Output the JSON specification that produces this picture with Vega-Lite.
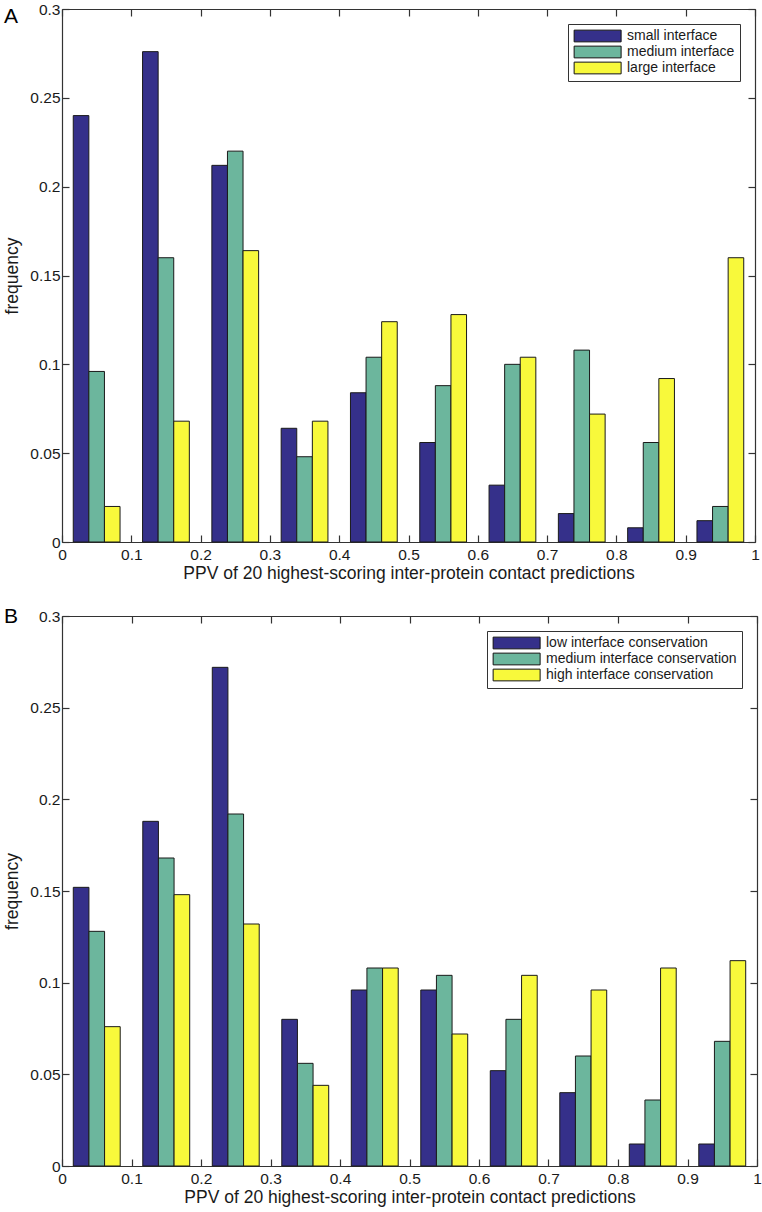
{
  "$schema": "https://vega.github.io/schema/vega-lite/v6.json",
  "background": "white",
  "padding": {"left": 3, "top": 2, "right": 0, "bottom": 4},
  "config": {
    "font": "Liberation Sans",
    "view": {"stroke": null},
    "axis": {
      "grid": false,
      "domainColor": "#333333",
      "domainWidth": 1.2,
      "tickColor": "#333333",
      "tickWidth": 1.2,
      "tickSize": -7,
      "labelColor": "#1a1a1a",
      "titleColor": "#1a1a1a",
      "labelFontSize": 15.5,
      "titleFontSize": 17.5,
      "titleFontWeight": "normal",
      "labelFont": "Liberation Sans",
      "titleFont": "Liberation Sans",
      "labelOverlap": false,
      "labelFlush": false,
      "labelBound": false
    },
    "axisX": {"labelPadding": 12, "titlePadding": 2},
    "axisY": {"labelPadding": 9, "titlePadding": 8},
    "legend": {
      "orient": "top-right",
      "offset": 15,
      "padding": 5,
      "strokeColor": "#333333",
      "fillColor": "white",
      "cornerRadius": 0,
      "symbolType": "M-1,-1H7V1H-1Z",
      "symbolSize": 138,
      "symbolStrokeColor": "#111111",
      "symbolStrokeWidth": 1,
      "symbolOpacity": 1,
      "labelFontSize": 14,
      "labelFont": "Liberation Sans",
      "labelColor": "#1a1a1a",
      "labelOffset": 40,
      "rowPadding": 0,
      "labelLimit": 400
    },
    "title": {
      "anchor": "start",
      "frame": "group",
      "fontSize": 21,
      "fontWeight": "normal",
      "font": "Liberation Sans",
      "color": "#000000",
      "baseline": "top",
      "dx": -58
    }
  },
  "datasets": {
    "A": [
      {"ppv": 0.05, "series": "small interface", "freq": 0.24},
      {"ppv": 0.05, "series": "medium interface", "freq": 0.096},
      {"ppv": 0.05, "series": "large interface", "freq": 0.02},
      {"ppv": 0.15, "series": "small interface", "freq": 0.276},
      {"ppv": 0.15, "series": "medium interface", "freq": 0.16},
      {"ppv": 0.15, "series": "large interface", "freq": 0.068},
      {"ppv": 0.25, "series": "small interface", "freq": 0.212},
      {"ppv": 0.25, "series": "medium interface", "freq": 0.22},
      {"ppv": 0.25, "series": "large interface", "freq": 0.164},
      {"ppv": 0.35, "series": "small interface", "freq": 0.064},
      {"ppv": 0.35, "series": "medium interface", "freq": 0.048},
      {"ppv": 0.35, "series": "large interface", "freq": 0.068},
      {"ppv": 0.45, "series": "small interface", "freq": 0.084},
      {"ppv": 0.45, "series": "medium interface", "freq": 0.104},
      {"ppv": 0.45, "series": "large interface", "freq": 0.124},
      {"ppv": 0.55, "series": "small interface", "freq": 0.056},
      {"ppv": 0.55, "series": "medium interface", "freq": 0.088},
      {"ppv": 0.55, "series": "large interface", "freq": 0.128},
      {"ppv": 0.65, "series": "small interface", "freq": 0.032},
      {"ppv": 0.65, "series": "medium interface", "freq": 0.1},
      {"ppv": 0.65, "series": "large interface", "freq": 0.104},
      {"ppv": 0.75, "series": "small interface", "freq": 0.016},
      {"ppv": 0.75, "series": "medium interface", "freq": 0.108},
      {"ppv": 0.75, "series": "large interface", "freq": 0.072},
      {"ppv": 0.85, "series": "small interface", "freq": 0.008},
      {"ppv": 0.85, "series": "medium interface", "freq": 0.056},
      {"ppv": 0.85, "series": "large interface", "freq": 0.092},
      {"ppv": 0.95, "series": "small interface", "freq": 0.012},
      {"ppv": 0.95, "series": "medium interface", "freq": 0.02},
      {"ppv": 0.95, "series": "large interface", "freq": 0.16}
    ],
    "B": [
      {"ppv": 0.05, "series": "low interface conservation", "freq": 0.152},
      {"ppv": 0.05, "series": "medium interface conservation", "freq": 0.128},
      {"ppv": 0.05, "series": "high interface conservation", "freq": 0.076},
      {"ppv": 0.15, "series": "low interface conservation", "freq": 0.188},
      {"ppv": 0.15, "series": "medium interface conservation", "freq": 0.168},
      {"ppv": 0.15, "series": "high interface conservation", "freq": 0.148},
      {"ppv": 0.25, "series": "low interface conservation", "freq": 0.272},
      {"ppv": 0.25, "series": "medium interface conservation", "freq": 0.192},
      {"ppv": 0.25, "series": "high interface conservation", "freq": 0.132},
      {"ppv": 0.35, "series": "low interface conservation", "freq": 0.08},
      {"ppv": 0.35, "series": "medium interface conservation", "freq": 0.056},
      {"ppv": 0.35, "series": "high interface conservation", "freq": 0.044},
      {"ppv": 0.45, "series": "low interface conservation", "freq": 0.096},
      {"ppv": 0.45, "series": "medium interface conservation", "freq": 0.108},
      {"ppv": 0.45, "series": "high interface conservation", "freq": 0.108},
      {"ppv": 0.55, "series": "low interface conservation", "freq": 0.096},
      {"ppv": 0.55, "series": "medium interface conservation", "freq": 0.104},
      {"ppv": 0.55, "series": "high interface conservation", "freq": 0.072},
      {"ppv": 0.65, "series": "low interface conservation", "freq": 0.052},
      {"ppv": 0.65, "series": "medium interface conservation", "freq": 0.08},
      {"ppv": 0.65, "series": "high interface conservation", "freq": 0.104},
      {"ppv": 0.75, "series": "low interface conservation", "freq": 0.04},
      {"ppv": 0.75, "series": "medium interface conservation", "freq": 0.06},
      {"ppv": 0.75, "series": "high interface conservation", "freq": 0.096},
      {"ppv": 0.85, "series": "low interface conservation", "freq": 0.012},
      {"ppv": 0.85, "series": "medium interface conservation", "freq": 0.036},
      {"ppv": 0.85, "series": "high interface conservation", "freq": 0.108},
      {"ppv": 0.95, "series": "low interface conservation", "freq": 0.012},
      {"ppv": 0.95, "series": "medium interface conservation", "freq": 0.068},
      {"ppv": 0.95, "series": "high interface conservation", "freq": 0.112}
    ]
  },
  "spacing": 24,
  "resolve": {"scale": {"color": "independent"}, "legend": {"color": "independent"}},
  "vconcat": [
    {
      "width": 693,
      "height": 533,
      "title": {"text": "A", "offset": -25},
      "data": {"name": "A"},
      "transform": [
        {"calculate": "indexof(['small interface','medium interface','large interface'], datum.series)", "as": "k"},
        {"calculate": "datum.ppv + (datum.k - 1.5) * 0.0225", "as": "x0"},
        {"calculate": "datum.x0 + 0.0225", "as": "x1"}
      ],
      "layer": [
        {
          "mark": {"type": "bar", "stroke": "#1a1a1a", "strokeWidth": 1, "opacity": 1},
          "encoding": {
            "x": {"field": "x0", "type": "quantitative", "scale": {"domain": [0, 1], "nice": false},
                  "axis": {"orient": "bottom", "values": [0, 0.1, 0.2, 0.3, 0.4, 0.5, 0.6, 0.7, 0.8, 0.9, 1], "format": "~g", "title": "PPV of 20 highest-scoring inter-protein contact predictions"}},
            "x2": {"field": "x1"},
            "y": {"field": "freq", "type": "quantitative", "stack": null, "scale": {"domain": [0, 0.3], "nice": false},
                  "axis": {"orient": "left", "values": [0, 0.05, 0.1, 0.15, 0.2, 0.25, 0.3], "format": "~g", "title": "frequency"}},
            "y2": {"datum": 0},
            "color": {"field": "series", "type": "nominal",
                      "scale": {"domain": ["small interface", "medium interface", "large interface"], "range": ["#35308a", "#6cb69d", "#f8f93b"]},
                      "legend": {"title": null}}
          }
        },
        {
          "mark": {"type": "bar", "opacity": 0},
          "encoding": {
            "x": {"field": "x0", "type": "quantitative", "axis": {"orient": "top", "labels": false, "title": null, "values": [0, 0.1, 0.2, 0.3, 0.4, 0.5, 0.6, 0.7, 0.8, 0.9, 1]}},
            "x2": {"field": "x1"},
            "y": {"field": "freq", "type": "quantitative", "stack": null, "axis": {"orient": "right", "labels": false, "title": null, "values": [0, 0.05, 0.1, 0.15, 0.2, 0.25, 0.3]}},
            "y2": {"datum": 0}
          }
        }
      ]
    },
    {
      "width": 695,
      "height": 550,
      "title": {"text": "B", "offset": -18},
      "data": {"name": "B"},
      "transform": [
        {"calculate": "indexof(['low interface conservation','medium interface conservation','high interface conservation'], datum.series)", "as": "k"},
        {"calculate": "datum.ppv + (datum.k - 1.5) * 0.0225", "as": "x0"},
        {"calculate": "datum.x0 + 0.0225", "as": "x1"}
      ],
      "layer": [
        {
          "mark": {"type": "bar", "stroke": "#1a1a1a", "strokeWidth": 1, "opacity": 1},
          "encoding": {
            "x": {"field": "x0", "type": "quantitative", "scale": {"domain": [0, 1], "nice": false},
                  "axis": {"orient": "bottom", "values": [0, 0.1, 0.2, 0.3, 0.4, 0.5, 0.6, 0.7, 0.8, 0.9, 1], "format": "~g", "title": "PPV of 20 highest-scoring inter-protein contact predictions"}},
            "x2": {"field": "x1"},
            "y": {"field": "freq", "type": "quantitative", "stack": null, "scale": {"domain": [0, 0.3], "nice": false},
                  "axis": {"orient": "left", "values": [0, 0.05, 0.1, 0.15, 0.2, 0.25, 0.3], "format": "~g", "title": "frequency"}},
            "y2": {"datum": 0},
            "color": {"field": "series", "type": "nominal",
                      "scale": {"domain": ["low interface conservation", "medium interface conservation", "high interface conservation"], "range": ["#35308a", "#6cb69d", "#f8f93b"]},
                      "legend": {"title": null}}
          }
        },
        {
          "mark": {"type": "bar", "opacity": 0},
          "encoding": {
            "x": {"field": "x0", "type": "quantitative", "axis": {"orient": "top", "labels": false, "title": null, "values": [0, 0.1, 0.2, 0.3, 0.4, 0.5, 0.6, 0.7, 0.8, 0.9, 1]}},
            "x2": {"field": "x1"},
            "y": {"field": "freq", "type": "quantitative", "stack": null, "axis": {"orient": "right", "labels": false, "title": null, "values": [0, 0.05, 0.1, 0.15, 0.2, 0.25, 0.3]}},
            "y2": {"datum": 0}
          }
        }
      ]
    }
  ]
}
